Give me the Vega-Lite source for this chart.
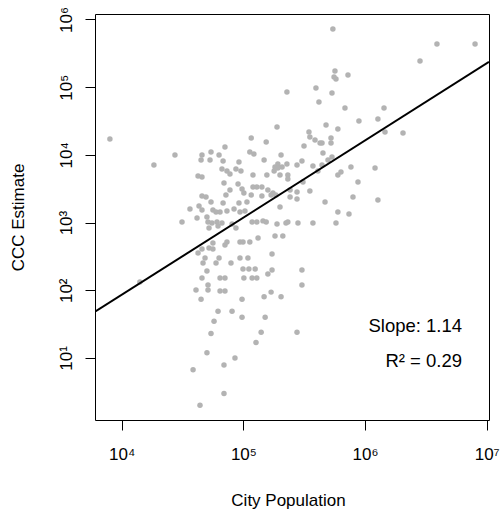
{
  "$schema": "https://vega.github.io/schema/vega-lite/v6.json",
  "width": 394,
  "height": 406,
  "autosize": {"type": "none"},
  "padding": {"left": 95, "top": 14, "right": 12, "bottom": 92},
  "background": "white",
  "config": {
    "view": {"stroke": "black", "strokeWidth": 1},
    "font": "Liberation Sans",
    "axis": {"grid": false, "domain": false, "tickColor": "black", "tickSize": 10, "tickWidth": 1, "labelFont": "Liberation Sans", "labelFontSize": 17, "labelColor": "black", "titleFont": "Liberation Sans", "titleFontSize": 17, "titleFontWeight": "normal", "titleColor": "black"}
  },
  "datasets": {
    "cities": [
      {"population":8000,"estimate":17200},{"population":544000,"estimate":724000},{"population":3900000,"estimate":435000},{"population":8020000,"estimate":435000},
      {"population":2830000,"estimate":244000},{"population":566000,"estimate":173000},{"population":556000,"estimate":142000},{"population":577000,"estimate":132000},
      {"population":724000,"estimate":151000},{"population":395000,"estimate":97300},{"population":535000,"estimate":82000},{"population":228000,"estimate":84900},
      {"population":418000,"estimate":60400},{"population":684000,"estimate":49300},{"population":1432000,"estimate":49300},{"population":189000,"estimate":25800},
      {"population":891000,"estimate":31700},{"population":1276000,"estimate":33900},{"population":478000,"estimate":27700},{"population":598000,"estimate":24200},
      {"population":346000,"estimate":21800},{"population":352000,"estimate":18400},{"population":388000,"estimate":16600},{"population":427000,"estimate":15000},
      {"population":443000,"estimate":15000},{"population":525000,"estimate":17800},{"population":525000,"estimate":15000},{"population":1459000,"estimate":21800},
      {"population":2051000,"estimate":21100},{"population":315000,"estimate":13500},{"population":116000,"estimate":17800},{"population":154000,"estimate":15500},
      {"population":70600,"estimate":13100},{"population":54200,"estimate":11000},{"population":113000,"estimate":11000},{"population":27400,"estimate":9960},
      {"population":18400,"estimate":7100},{"population":45700,"estimate":9960},{"population":63100,"estimate":9960},{"population":122000,"estimate":10300},
      {"population":44900,"estimate":8410},{"population":53200,"estimate":8410},{"population":68100,"estimate":8130},{"population":92000,"estimate":7850},
      {"population":204000,"estimate":9960},{"population":148000,"estimate":8410},{"population":192000,"estimate":7340},{"population":228000,"estimate":7340},
      {"population":182000,"estimate":6620},{"population":66700,"estimate":6190},{"population":73300,"estimate":5780},{"population":77600,"estimate":5220},
      {"population":86900,"estimate":6190},{"population":95500,"estimate":5780},{"population":120000,"estimate":5050},{"population":156000,"estimate":5050},
      {"population":179000,"estimate":5780},{"population":192000,"estimate":6400},{"population":208000,"estimate":6620},{"population":232000,"estimate":5050},
      {"population":232000,"estimate":4410},{"population":200000,"estimate":5050},{"population":42400,"estimate":4880},{"population":45700,"estimate":4720},
      {"population":69300,"estimate":3850},{"population":90400,"estimate":3720},{"population":120000,"estimate":3360},{"population":129000,"estimate":3360},
      {"population":142000,"estimate":3360},{"population":159000,"estimate":3030},{"population":175000,"estimate":2740},{"population":185000,"estimate":2560},
      {"population":169000,"estimate":2560},{"population":77600,"estimate":3030},{"population":97500,"estimate":3130},{"population":101000,"estimate":2740},
      {"population":116000,"estimate":2560},{"population":45700,"estimate":2470},{"population":49300,"estimate":2390},{"population":71900,"estimate":2560},
      {"population":142000,"estimate":2470},{"population":54200,"estimate":2010},{"population":68100,"estimate":1950},{"population":92000,"estimate":1950},
      {"population":107000,"estimate":2010},{"population":36400,"estimate":1590},{"population":43200,"estimate":1760},{"population":45700,"estimate":1530},
      {"population":56200,"estimate":1530},{"population":59600,"estimate":1430},{"population":64300,"estimate":1430},{"population":73300,"estimate":1480},
      {"population":83800,"estimate":1590},{"population":93800,"estimate":1430},{"population":103000,"estimate":1480},{"population":41600,"estimate":1170},
      {"population":50200,"estimate":1210},{"population":200000,"estimate":1700},{"population":242000,"estimate":2390},{"population":276000,"estimate":2230},
      {"population":451000,"estimate":10700},{"population":276000,"estimate":7100},{"population":303000,"estimate":8130},{"population":373000,"estimate":6850},
      {"population":443000,"estimate":7100},{"population":496000,"estimate":8410},{"population":535000,"estimate":9310},{"population":766000,"estimate":6620},
      {"population":1208000,"estimate":6400},{"population":634000,"estimate":5580},{"population":598000,"estimate":5050},{"population":309000,"estimate":3980},
      {"population":875000,"estimate":3980},{"population":242000,"estimate":3030},{"population":276000,"estimate":2830},{"population":352000,"estimate":2930},
      {"population":796000,"estimate":2390},{"population":1276000,"estimate":2160},{"population":469000,"estimate":2010},{"population":598000,"estimate":1430},
      {"population":738000,"estimate":1340},{"population":281000,"estimate":986},{"population":373000,"estimate":986},{"population":577000,"estimate":986},
      {"population":410000,"estimate":5780},{"population":31300,"estimate":1020},{"population":51200,"estimate":1020},{"population":55200,"estimate":986},
      {"population":60700,"estimate":1020},{"population":66700,"estimate":986},{"population":52200,"estimate":832},{"population":61900,"estimate":891},
      {"population":80700,"estimate":953},{"population":86900,"estimate":832},{"population":118000,"estimate":1020},{"population":129000,"estimate":1020},
      {"population":145000,"estimate":1060},{"population":154000,"estimate":1020},{"population":189000,"estimate":953},{"population":224000,"estimate":986},
      {"population":232000,"estimate":1020},{"population":132000,"estimate":593},{"population":182000,"estimate":634},{"population":211000,"estimate":634},
      {"population":56200,"estimate":500},{"population":52200,"estimate":422},{"population":56200,"estimate":407},{"population":73300,"estimate":517},
      {"population":70600,"estimate":467},{"population":93800,"estimate":517},{"population":99300,"estimate":517},{"population":113000,"estimate":517},
      {"population":45700,"estimate":407},{"population":42400,"estimate":356},{"population":172000,"estimate":344},{"population":48400,"estimate":300},
      {"population":46600,"estimate":253},{"population":63100,"estimate":300},{"population":59600,"estimate":253},{"population":79100,"estimate":253},
      {"population":93800,"estimate":300},{"population":109000,"estimate":300},{"population":99300,"estimate":206},{"population":111000,"estimate":206},
      {"population":125000,"estimate":206},{"population":50200,"estimate":193},{"population":172000,"estimate":200},{"population":159000,"estimate":174},
      {"population":45700,"estimate":152},{"population":64300,"estimate":152},{"population":70600,"estimate":152},{"population":101000,"estimate":152},
      {"population":118000,"estimate":152},{"population":129000,"estimate":152},{"population":51200,"estimate":120},{"population":51200,"estimate":101},
      {"population":40800,"estimate":101},{"population":64300,"estimate":98},{"population":70600,"estimate":98},{"population":169000,"estimate":94},
      {"population":148000,"estimate":80},{"population":204000,"estimate":80},{"population":44900,"estimate":74},{"population":97500,"estimate":74},
      {"population":61900,"estimate":49},{"population":80700,"estimate":49},{"population":57400,"estimate":35},{"population":97500,"estimate":40},
      {"population":151000,"estimate":40},{"population":54200,"estimate":23},{"population":140000,"estimate":24},{"population":127000,"estimate":17},
      {"population":50200,"estimate":12},{"population":85300,"estimate":10},{"population":38600,"estimate":6.7},{"population":69300,"estimate":7.9},
      {"population":69300,"estimate":3.0},{"population":44000,"estimate":2.0},{"population":14100,"estimate":133},{"population":303000,"estimate":200},
      {"population":303000,"estimate":120},{"population":276000,"estimate":24}
    ],
    "fit": [
      {"population": 6033, "estimate": 48.2},
      {"population": 10442000, "estimate": 237100}
    ],
    "notes": [
      {"population": 6270000, "estimate": 30.0, "label": "Slope:  1.14"},
      {"population": 6270000, "estimate": 9.0, "label": "R² = 0.29"}
    ]
  },
  "layer": [
    {
      "data": {"name": "cities"},
      "mark": {"type": "circle", "size": 30, "color": "#b3b3b3", "opacity": 1},
      "encoding": {
        "x": {
          "field": "population", "type": "quantitative",
          "scale": {"type": "log", "domain": [6033, 10442000], "nice": false, "zero": false},
          "axis": {
            "title": "City Population",
            "values": [10000, 100000, 1000000, 10000000],
            "labelExpr": "'10' + ['⁰','¹','²','³','⁴','⁵','⁶','⁷'][round(log(datum.value)/LN10)]",
            "labelPadding": 16,
            "labelFlush": false,
            "labelOverlap": false,
            "titleX": 193,
            "titleY": 80,
            "titleBaseline": "middle"
          }
        },
        "y": {
          "field": "estimate", "type": "quantitative",
          "scale": {"type": "log", "domain": [1.214, 1205000], "nice": false, "zero": false},
          "axis": {
            "title": "CCC Estimate",
            "values": [10, 100, 1000, 10000, 100000, 1000000],
            "labelExpr": "'10' + ['⁰','¹','²','³','⁴','⁵','⁶','⁷'][round(log(datum.value)/LN10)]",
            "labelAngle": -90,
            "labelAlign": "center",
            "labelBaseline": "bottom",
            "labelPadding": 10,
            "labelFlush": false,
            "labelOverlap": false,
            "titleX": -77,
            "titleY": 203,
            "titleAngle": -90,
            "titleAlign": "center",
            "titleBaseline": "middle"
          }
        }
      }
    },
    {
      "data": {"name": "fit"},
      "mark": {"type": "line", "color": "black", "strokeWidth": 2, "clip": true},
      "encoding": {
        "x": {"field": "population", "type": "quantitative"},
        "y": {"field": "estimate", "type": "quantitative"}
      }
    },
    {
      "data": {"name": "notes"},
      "mark": {"type": "text", "align": "right", "baseline": "middle", "fontSize": 18.5, "font": "Liberation Sans", "color": "black"},
      "encoding": {
        "x": {"field": "population", "type": "quantitative"},
        "y": {"field": "estimate", "type": "quantitative"},
        "text": {"field": "label"}
      }
    }
  ]
}
